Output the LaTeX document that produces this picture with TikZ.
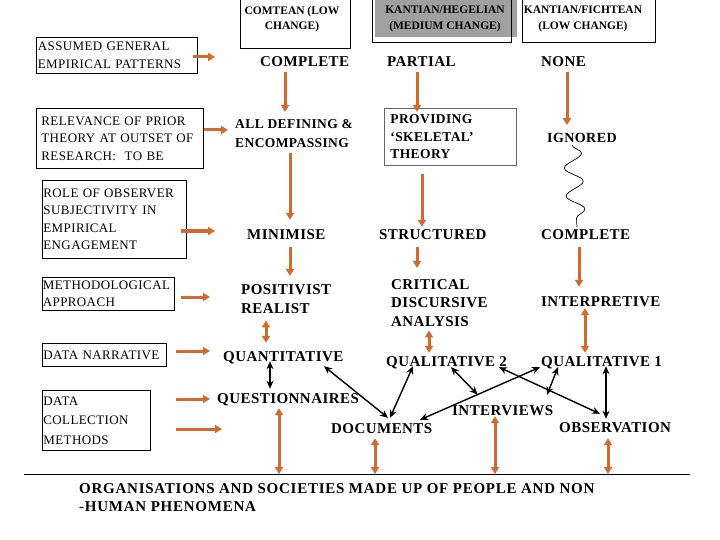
\documentclass[tikz,border=0pt]{standalone}
\usepackage{fontspec}
\setmainfont{Liberation Serif}
\newfontfamily\lsp[LetterSpace=3]{Liberation Serif}
\newfontfamily\lspw[LetterSpace=5]{Liberation Serif}
\usetikzlibrary{arrows.meta,decorations.pathmorphing,calc}
\definecolor{arrowc}{RGB}{210,105,45}
\definecolor{hgray}{RGB}{160,160,160}
\tikzset{
 lbox/.style={draw, line width=0.8pt, anchor=north west, align=left, inner ysep=0pt, font=\lsp\fontsize{13}{17.5}\selectfont},
 mid/.style={anchor=west, inner xsep=1pt, inner ysep=1pt, text height=10pt, text depth=0pt, font=\lsp\bfseries\fontsize{15}{18.5}\selectfont},
 midml/.style={anchor=north west, inner sep=1pt, align=left, font=\lsp\bfseries\fontsize{15}{18.5}\selectfont},
 hbox/.style={draw, line width=0.8pt, anchor=north west, inner sep=0pt},
 htxt/.style={anchor=north, align=center, inner sep=1pt, font=\bfseries\fontsize{11.5}{15.5}\selectfont},
 oarr/.style={draw=arrowc, line width=3pt, -{Triangle[length=7pt,width=8pt]}},
 odarr/.style={draw=arrowc, line width=3pt, {Triangle[length=7pt,width=8pt]}-{Triangle[length=7pt,width=8pt]}},
 barr/.style={draw=black, line width=1.4pt, {Stealth[length=8pt,width=7pt]}-{Stealth[length=8pt,width=7pt]}},
}
\begin{document}
\begin{tikzpicture}[x=1pt,y=-1pt]
\useasboundingbox (0,0) rectangle (720,540);
% headers
\node[hbox, minimum width=110, minimum height=49] (h1) at (240,-1) {};
\node[htxt] (t1) at (292,5) {COMTEAN (LOW\\CHANGE)};
\fill[hgray] (375,-1) rectangle (517,37);
\node[hbox, minimum width=139, minimum height=43] (h2) at (372,-1) {};
\node[htxt] (t2) at (445,5) {KANTIAN/HEGELIAN\\(MEDIUM CHANGE)};
\node[hbox, minimum width=133, minimum height=43] (h3) at (522,-1) {};
\node[htxt] (t3) at (583,5) {KANTIAN/FICHTEAN\\(LOW CHANGE)};
% left boxes
\node[lbox, inner xsep=1.5pt, text width=158, minimum height=36] (b1) at (36,37) {ASSUMED GENERAL\\EMPIRICAL PATTERNS};
\node[lbox, inner xsep=5pt, text width=157, minimum height=60] (b2) at (36,108) {RELEVANCE OF PRIOR\\\mbox{THEORY AT OUTSET OF}\\RESEARCH:\ \ TO BE};
\node[lbox, inner xsep=1pt, text width=142, minimum height=78] (b3) at (42,180) {ROLE OF OBSERVER\\SUBJECTIVITY IN\\EMPIRICAL\\ENGAGEMENT};
\node[lbox, inner xsep=0.5pt, text width=131, minimum height=33] (b4) at (42,277) {\mbox{METHODOLOGICAL}\\APPROACH};
\node[lbox, inner xsep=1pt, text width=122, minimum height=23] (b5) at (42,343) {\mbox{DATA NARRATIVE}};
\node[lbox, inner xsep=1pt, text width=106, minimum height=60, font=\lsp\fontsize{13}{19.5}\selectfont] (b6) at (42,390) {DATA\\COLLECTION\\METHODS};
% column 1
\node[mid] (c1a) at (259,62) {COMPLETE};
\node[midml, font=\lsp\bfseries\fontsize{13.5}{19}\selectfont] (c1b) at (234,118.5) {ALL DEFINING \&\\ENCOMPASSING};
\node[mid] (c1c) at (246,235) {MINIMISE};
\node[midml, font=\lsp\bfseries\fontsize{15}{19}\selectfont] (c1d) at (240,283) {POSITIVIST\\REALIST};
\node[mid] (c1e) at (222,356) {QUANTITATIVE};
\node[mid] (c1f) at (216,398) {QUESTIONNAIRES};
% column 2
\node[mid] (c2a) at (386,62) {PARTIAL};
\node[draw=black!60, line width=0.8pt, anchor=north west, align=left, inner xsep=6pt, inner ysep=0pt, text width=120, minimum height=57, font=\lsp\bfseries\fontsize{13.5}{17.5}\selectfont] (c2b) at (384,108) {PROVIDING\\‘SKELETAL’\\THEORY};
\node[mid] (c2c) at (378,235) {STRUCTURED};
\node[midml] (c2d) at (390,278) {CRITICAL\\DISCURSIVE\\ANALYSIS};
\node[mid] (c2e) at (385,361) {QUALITATIVE 2};
\node[mid] (c2f) at (330,428) {DOCUMENTS};
\node[mid] (c2g) at (451,410) {INTERVIEWS};
% column 3
\node[mid] (c3a) at (540,62) {NONE};
\node[mid, font=\lsp\bfseries\fontsize{14}{18}\selectfont, text height=9.5pt] (c3b) at (546,138) {IGNORED};
\node[mid] (c3c) at (540,235) {COMPLETE};
\node[mid] (c3d) at (540,301) {INTERPRETIVE};
\node[mid] (c3e) at (540,361) {QUALITATIVE 1};
\node[mid] (c3f) at (558,427) {OBSERVATION};
% base line and text
\coordinate (L) at (24,474);
\coordinate (R) at (690,474);
\draw[line width=0.8pt] (L) -- (R);
\node[midml, font=\lspw\bfseries\fontsize{15}{18}\selectfont] (base) at (78,482) {ORGANISATIONS AND SOCIETIES MADE UP OF PEOPLE AND NON\\-HUMAN PHENOMENA};
% left arrows
\coordinate (e1) at (215,57);  \draw[oarr, shorten <=-5] (b1.east |- e1) -- (e1);
\coordinate (e2) at (228,130); \draw[oarr] (b2.east |- e2) -- (e2);
\coordinate (e3) at (215,231); \draw[oarr, shorten <=-6] (b3.east |- e3) -- (e3);
\coordinate (e4) at (210,297); \draw[oarr, shorten <=6] (b4.east |- e4) -- (e4);
\coordinate (e5) at (210,351); \draw[oarr, shorten <=9] (b5.east |- e5) -- (e5);
\coordinate (e6) at (210,399); \draw[oarr, shorten <=25] (b6.east |- e6) -- (e6);
\coordinate (e7) at (222,429); \draw[oarr, shorten <=25] (b6.east |- e7) -- (e7);
% column 1 arrows
\coordinate (x1) at (285,0);
\coordinate (x2) at (290,0);
\coordinate (x3) at (266,0);
\coordinate (x4) at (279,0);
\draw[oarr, shorten <=4, shorten >=6.5] (c1a.south -| x1) -- (c1b.north -| x1);
\draw[oarr, shorten <=3.5, shorten >=9] (c1b.south -| x2) -- (c1c.north -| x2);
\draw[oarr, shorten <=6, shorten >=7] (c1c.south -| x2) -- (c1d.north -| x2);
\draw[odarr, shorten <=6, shorten >=7] (c1d.south -| x3) -- (c1e.north -| x3);
\draw[odarr, shorten <=4] (c1f.south -| x4) -- (x4 |- L);
% column 2 arrows
\coordinate (x5) at (417,0);
\coordinate (x6) at (422,0);
\coordinate (x7) at (429,0);
\coordinate (x8) at (375,0);
\coordinate (x9) at (495,0);
\draw[oarr, shorten <=4, shorten >=-4] (c2a.south -| x5) -- (c2b.north -| x5);
\draw[oarr, shorten <=8, shorten >=2] (c2b.south -| x6) -- (c2c.north -| x6);
\draw[oarr, shorten <=6, shorten >=10] (c2c.south -| x5) -- (c2d.north -| x5);
\draw[odarr, shorten <=3, shorten >=2] (c2d.south -| x7) -- (c2e.north -| x7);
\draw[odarr, shorten <=4] (c2f.south -| x8) -- (x8 |- L);
\draw[odarr] (c2g.south -| x9) -- (x9 |- L);
% column 3 arrows
\coordinate (x10) at (567,0);
\coordinate (x11) at (579,0);
\coordinate (x12) at (585,0);
\coordinate (x13) at (608,0);
\draw[oarr, shorten <=4, shorten >=7] (c3a.south -| x10) -- (c3b.north -| x10);
\draw[line width=0.7pt, decorate, decoration={snake, amplitude=9pt, segment length=28pt, post length=3pt}] ($(c3b.south west)+(26,1)$) -- ($(c3c.north west)+(37,-2)$);
\draw[oarr, shorten <=6, shorten >=8] (c3c.south -| x11) -- (c3d.north -| x11);
\draw[odarr, shorten <=1, shorten >=2] (c3d.south -| x12) -- (c3e.north -| x12);
\draw[odarr, shorten <=5] (c3f.south -| x13) -- (x13 |- L);
% black connectors
\draw[barr] ($(c1e.south west)+(48,-1)$) -- ($(c1f.north west)+(54,-3)$);
\draw[barr] ($(c1e.south west)+(102,4)$) -- ($(c2f.north west)+(58,-4)$);
\draw[barr] ($(c2f.north west)+(60,-4)$) -- ($(c2e.south west)+(28,-1)$);
\draw[barr] ($(c2f.north west)+(90,-2)$) -- coordinate[pos=0.48] (jx) ($(c3e.south west)+(0,0)$);
\draw[barr] ($(c2e.south west)+(66,0)$) -- (jx);
\draw[barr] ($(c2e.south west)+(114,0)$) -- ($(c3f.north west)+(42,-7)$);
\draw[barr] ($(c3e.south west)+(18,0)$) -- ($(c2g.north west)+(96,-9)$);
\draw[barr] ($(c3e.south west)+(66,-1)$) -- ($(c3f.north west)+(48,-2)$);
\end{tikzpicture}
\end{document}
